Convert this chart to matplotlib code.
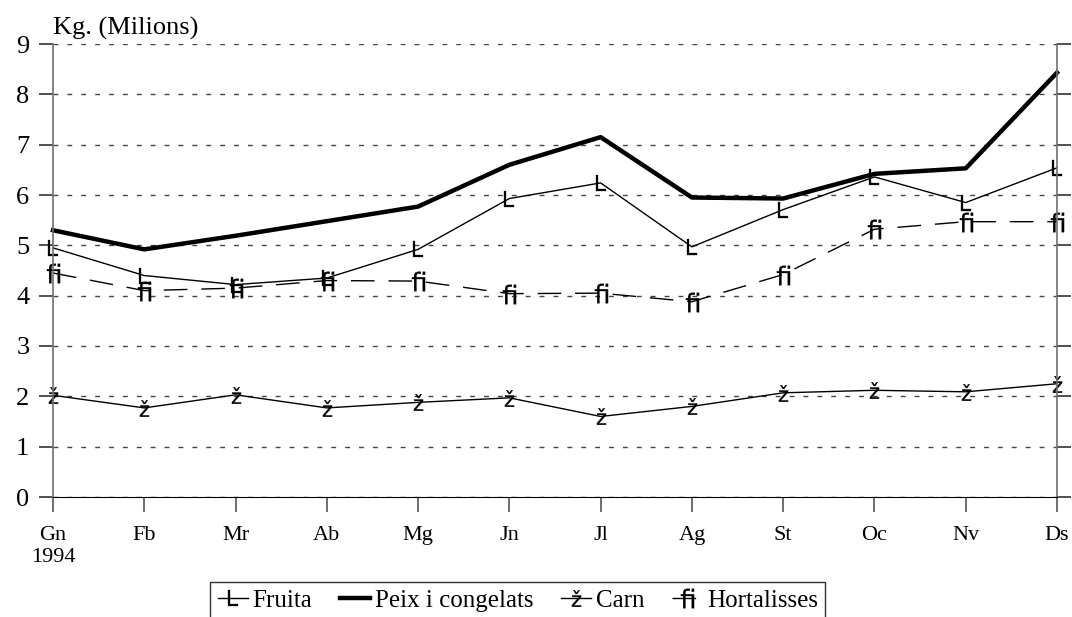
import matplotlib
matplotlib.use('Agg')
import matplotlib.pyplot as plt
import matplotlib.transforms as mtransforms

months = ['Gn\n1994', 'Fb', 'Mr', 'Ab', 'Mg', 'Jn', 'Jl', 'Ag', 'St', 'Oc', 'Nv', 'Ds']
fruita = [4.95, 4.40, 4.22, 4.35, 4.92, 5.93, 6.24, 4.97, 5.71, 6.36, 5.85, 6.54]
peix = [5.30, 4.92, 5.19, 5.48, 5.77, 6.60, 7.15, 5.95, 5.93, 6.42, 6.53, 8.43]
carn = [2.02, 1.77, 2.03, 1.77, 1.88, 1.97, 1.60, 1.80, 2.07, 2.12, 2.09, 2.25]
hortalisses = [4.45, 4.10, 4.15, 4.30, 4.29, 4.04, 4.05, 3.88, 4.42, 5.32, 5.47, 5.47]
yticks = list(range(0, 10))

plt.rcParams['font.family'] = ['Liberation Serif', 'DejaVu Serif']
plt.rcParams['mathtext.fontset'] = 'dejavusans'

fig = plt.figure(figsize=(10.72, 6.17), dpi=100)
ax = fig.add_axes([53/1072, 1-497/617, (1057-53)/1072, (497-44)/617])

x = range(len(months))
ax.plot(x, fruita, color='black', lw=1.0, marker=r'$\mathsf{L}$', ms=11, mew=0.2,
        label='Fruita', clip_on=False)
ax.plot(x, peix, color='black', lw=3.2, label='Peix i congelats', clip_on=False)
ax.plot(x, carn, color='black', lw=1.0, marker=r'$\mathrm{ž}$', ms=12, mew=0.2,
        label='Carn', clip_on=False)
ax.plot(x, hortalisses, color='black', lw=1.0, ls=(0, (17, 10)), marker=r'$\mathrm{ﬁ}$',
        ms=14, mew=0.2, label='Hortalisses', clip_on=False)

ax.set_xlim(0, len(months) - 1)
ax.set_ylim(0, 9)
ax.set_xticks(list(x))
ax.set_xticklabels(months, fontsize=16, linespacing=1.2)
ax.set_yticks(yticks)
ax.set_yticklabels([str(v) for v in yticks], fontsize=19)
ax.yaxis.grid(True, color='#444444', lw=1.0, ls=(0, (3.5, 6.5)))
ax.set_axisbelow(True)

for side in ['left', 'right']:
    ax.spines[side].set_color('#707070')
    ax.spines[side].set_linewidth(1.2)
ax.spines['top'].set_visible(False)
ax.spines['bottom'].set_color('black')
ax.tick_params(axis='y', which='both', left=True, right=True, direction='out',
               length=10, width=1.2, color='#333333', pad=7)
ax.tick_params(axis='x', direction='out', length=11, width=1.2, color='#555555', pad=10)

off = mtransforms.offset_copy(ax.transAxes, fig=fig, x=0, y=4, units='dots')
ax.text(0, 1, 'Kg. (Milions)', transform=off, ha='left', va='bottom', fontsize=19)

leg = fig.legend(loc='upper left', bbox_to_anchor=(210/1072, 1-582/617), ncol=4,
                 fontsize=18, frameon=True, fancybox=False, edgecolor='black',
                 handlelength=1.2, handletextpad=0.2, columnspacing=1.1,
                 borderpad=0.3, borderaxespad=0)
leg.get_frame().set_linewidth(1.0)

fig.savefig('out.png', dpi=100)
